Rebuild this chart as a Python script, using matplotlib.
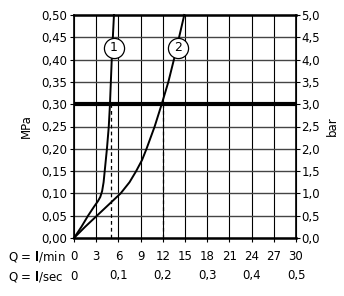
import matplotlib
matplotlib.use('Agg')
import matplotlib.pyplot as plt
import numpy as np

plt.rcParams['font.family'] = 'DejaVu Sans'
plt.rcParams['font.size'] = 8

# flow in l/min, pressure in MPa
curve1_q = [0, 1.0, 1.9, 2.7, 3.25, 3.55, 3.8, 4.0, 4.15, 4.45, 4.7, 4.86, 5.1, 5.4]
curve1_p = [0, 0.025, 0.05, 0.07, 0.083, 0.092, 0.105, 0.125, 0.15, 0.20, 0.25, 0.30, 0.40, 0.50]
curve2_q = [0, 1.5, 3.1, 4.7, 6.3, 7.5, 8.4, 9.2, 9.8, 10.9, 11.85, 12.75, 13.5, 14.2, 14.9]
curve2_p = [0, 0.025, 0.05, 0.075, 0.10, 0.125, 0.15, 0.175, 0.20, 0.25, 0.30, 0.35, 0.40, 0.45, 0.50]
labels = ['1', '2']
label_q = [5.35, 14.0]
label_p = [0.427, 0.427]
dash_q = [5, 12]
p_ref = 0.30

lmin_ticks = np.arange(0, 31, 3)
lsec_ticks = [0, 0.1, 0.2, 0.3, 0.4, 0.5]
mpa_ticks = np.arange(0, 0.501, 0.05)
bar_ticks = np.arange(0, 5.01, 0.5)

fig = plt.figure(figsize=(3.44, 2.96), dpi=100)
ax = fig.add_axes([74 / 344, 58 / 296, 222 / 344, 223 / 296])

ax.set_xlim(0, 30)
ax.set_ylim(0, 0.5)

for q in lmin_ticks[1:-1]:
    ax.axvline(q, color='black', lw=0.8, zorder=1)
for p in mpa_ticks[1:-1]:
    ax.axhline(p, color='#444444', lw=1.0, zorder=1)
ax.axhline(p_ref, color='black', lw=3, zorder=2)

for q in dash_q:
    ax.plot([q, q], [0, p_ref], color='black', lw=0.9, ls=(0, (3, 2.5)), zorder=2)

ax.plot(curve1_q, curve1_p, color='black', lw=1.4, zorder=3, clip_on=False)
ax.plot(curve2_q, curve2_p, color='black', lw=1.4, zorder=3, clip_on=False)

for t, q, p in zip(labels, label_q, label_p):
    ax.plot(q, p, 'o', ms=14.5, mfc='white', mec='black', mew=0.9, zorder=4)
    ax.text(q, p, t, ha='center', va='center', fontsize=9, zorder=5)

ax.spines['top'].set_linewidth(1.8)
ax.spines['bottom'].set_linewidth(1.8)
ax.spines['left'].set_linewidth(1.2)
ax.spines['right'].set_linewidth(1.2)

ax.set_xticks(lmin_ticks)
ax.set_xticklabels([str(v) for v in lmin_ticks])
ax.set_yticks(mpa_ticks)
ax.set_yticklabels([f'{v:.2f}'.replace('.', ',') for v in mpa_ticks])
ax.tick_params(direction='out', length=3, width=0.8, pad=2, labelsize=8.5)
ax.tick_params(axis='x', pad=6)
ax.set_ylabel('MPa', fontsize=8.5, labelpad=6)

ax2 = ax.twinx()
ax2.set_ylim(0, 5)
ax2.set_yticks(bar_ticks)
ax2.set_yticklabels([f'{v:.1f}'.replace('.', ',') for v in bar_ticks])
ax2.tick_params(direction='out', length=3, width=0.8, pad=1, labelsize=8.5)
ax2.set_ylabel('bar', fontsize=8.5, labelpad=4)

for v in lsec_ticks:
    s = '0' if v == 0 else f'{v:.1f}'.replace('.', ',')
    ax.text(v * 60, -38 / 223, s, transform=ax.get_xaxis_transform(),
            ha='center', va='center', fontsize=8.5)

fig.text(8 / 344, 1 - 257 / 296, 'Q = $\\mathbf{l}$/min', ha='left', va='center', fontsize=8.5)
fig.text(8 / 344, 1 - 276 / 296, 'Q = $\\mathbf{l}$/sec', ha='left', va='center', fontsize=8.5)

fig.savefig('out.png', dpi=100)
